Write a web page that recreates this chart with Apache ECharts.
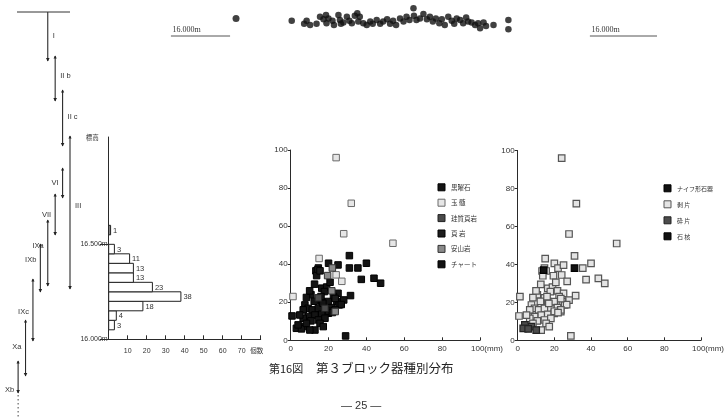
<!DOCTYPE html>
<html><head><meta charset="utf-8">
<script src="https://cdn.jsdelivr.net/npm/echarts@6/dist/echarts.min.js"></script>
<style>html,body{margin:0;padding:0;background:#fff}#c{width:727px;height:417px}</style>
</head><body><div id="c"></div>
<script>
// ---------- stratigraphic layers (column index, top / bottom depth, label depth) ----------
const layerNames = ['I','II b','II c','III','VI','VII','IXa','IXb','IXc','Xa','Xb'];
const layerColumn = [4,5,6,7,6,5,4,3,2,1,0];
const layerTop = [0,44,78,124,156,182,208,232,267,308,349];
const layerBottom = [49,89,134,277,186,223,274,280,329,364,381];
const layerLabelDepth = [24,64,105,194,171,203,234,248,300,335,378];
const layerLabelSide = ['r','r','r','r','l','l','l','l','l','l','l'];
const layerDottedTo = [null,null,null,null,null,null,null,null,null,null,405];
const groundColumns = [-0.15, 7];

// ---------- profile (horizontal distance, elevation m) ----------
const profileX = [15.3,26.5,29.0,29.5,30.2,31.5,32.2,32.9,33.4,33.9,33.5,34.7,35.0,35.9,36.2,36.4,36.9,37.6,38.1,38.6,39.2,39.7,40.2,39.9,40.9,41.6,42.3,42.8,43.6,44.3,44.9,45.7,46.3,46.9,47.5,48.3,49.0,49.6,50.2,51.0,51.1,51.6,52.3,53.0,53.7,54.3,54.9,55.5,56.2,56.7,57.3,58.0,58.7,59.2,59.7,60.4,61.0,61.6,62.0,62.7,63.4,64.0,64.4,65.1,65.6,67.1,70.1,70.1];
const profileZ = [16.55,16.48,16.38,16.48,16.34,16.38,16.60,16.52,16.66,16.55,16.40,16.48,16.34,16.66,16.50,16.38,16.42,16.60,16.48,16.40,16.63,16.71,16.60,16.45,16.40,16.34,16.45,16.38,16.50,16.38,16.45,16.52,16.38,16.48,16.34,16.55,16.45,16.60,16.50,16.87,16.63,16.50,16.55,16.69,16.52,16.60,16.45,16.55,16.40,16.52,16.34,16.60,16.48,16.38,16.55,16.50,16.40,16.58,16.45,16.42,16.34,16.40,16.24,16.42,16.31,16.34,16.50,16.21];
const scaleBarStart = [2.2, 86.5];
const scaleBarEnd = [14.1, 100];
const scaleBarLevel = 16.0;
const scaleBarLabel = '16.000m';

// ---------- elevation histogram ----------
const binLower = [16.00,16.05,16.10,16.15,16.20,16.25,16.30,16.35,16.40,16.45,16.50,16.55];
const binCount = [0,3,4,18,38,23,13,13,11,3,0,1];
const binWidth = 0.05;
const histTicks = [16.0, 16.5];

// ---------- artefacts: width (x) / length (y) in mm, stone type, tool type ----------
const pieceX = [24,32,28,54,31,15,14.6,13.3,14.2,15.5,13.7,20,22,25,31,35.5,40,19.5,24,27,37.3,44,47.5,12.6,16.4,19,20.8,17.8,21.7,25,22.6,31.6,28,10.7,8.3,1.2,0.7,29,14.6,12.4,16.4,19.9,24.4,25.6,7.5,9.2,6.6,11.4,14.6,18.1,21.7,23.5,19.9,16.4,12.8,9.2,6.6,4.8,10.7,14.6,18.1,15.5,12.8,7.5,3.9,3,5.7,8.3,17.2,10.1,26.7,23.5,17,10,16,23.5,20,22];
const pieceY = [96,72,56,51,44.5,43,38,36.5,37,36.5,34,40.5,38,39.6,38,38,40.5,34,34.4,31,32,32.6,30,29.5,27.4,28,30.5,25.6,26,24.7,23,23.5,21.2,24,22.5,23,12.8,2.3,22.3,20.5,20.4,20.4,20.4,18.6,18.6,16.8,16,16,16.8,16.8,17.2,15.1,14.2,13.7,13.3,12.5,11.6,13.3,10.2,10.7,11.6,8.9,5.4,7.2,8.1,6.3,6,8.9,7.2,5.4,18.8,22,19.5,26,23,16,15.3,14.6];
const pieceStone = [1,1,1,1,0,1,0,0,0,3,0,0,4,0,0,0,0,4,1,1,0,0,0,0,0,0,0,0,4,0,0,0,0,0,0,1,0,0,2,0,0,0,0,0,0,0,0,0,0,2,0,4,0,0,0,0,0,0,0,0,0,0,0,0,5,0,0,0,0,0,0,3,0,0,0,0,0,0];
const pieceTool = [1,1,1,1,1,1,1,1,0,1,1,1,1,1,3,1,1,1,1,1,1,1,1,1,1,1,1,1,1,1,1,1,1,1,1,1,1,1,1,1,1,1,1,1,1,1,1,1,1,1,1,1,1,1,1,1,1,1,1,1,1,1,1,2,2,2,2,1,1,2,1,1,1,1,1,1,1,1];

const stoneNames = ['黒曜石','玉 髄','珪質頁岩','頁 岩','安山岩','チャート'];
const toolNames = ['ナイフ形石器','剥 片','砕 片','石 核'];

// ---------- styles ----------
const stoneFill = ['#141414','#e6e6e6','#4a4a4a','#1c1c1c','#8a8a8a','#111'];
const stoneBorder = ['#000','#6a6a6a','#222','#000','#333','#000'];
const toolFill = ['#111','#e4e4e4','#4c4c4c','#111'];
const toolBorder = ['#000','#555','#222','#000'];
const SANS = 'Liberation Sans, Arial, sans-serif';
const CJK = 'Noto Sans CJK JP, sans-serif';
const INK = '#2a2a2a';

const chart = echarts.init(document.getElementById('c'), null, {renderer:'canvas'});

function pts(filterArr, k){
  const out = [];
  pieceX.forEach((x,i)=>{ if(filterArr[i]===k) out.push([x, pieceY[i]]); });
  return out;
}

function scatterAxes(grid){
  return {
    x: {type:'value', gridIndex:grid, min:0, max:100, interval:20,
      axisLine:{lineStyle:{color:INK,width:1}},
      axisTick:{inside:true,length:3,lineStyle:{color:INK}},
      splitLine:{show:false},
      axisLabel:{fontSize:8,color:'#333',margin:4,fontFamily:SANS,
        formatter:v=> v===100 ? '{u|100(mm)}' : String(v),
        rich:{u:{fontSize:8,color:'#333',fontFamily:SANS,padding:[0,0,0,14]}}}},
    y: {type:'value', gridIndex:grid, min:0, max:100, interval:20,
      axisLine:{lineStyle:{color:INK,width:1}},
      axisTick:{length:3,lineStyle:{color:INK}},
      splitLine:{show:false},
      axisLabel:{fontSize:8,color:'#333',margin:3,fontFamily:SANS}}
  };
}
const s1 = scatterAxes(3), s2 = scatterAxes(4);

const series = [];

// stratigraphy
series.push({
  type:'custom', xAxisIndex:0, yAxisIndex:0, silent:true,
  data: layerNames.map((n,i)=>[layerColumn[i], layerTop[i], layerBottom[i], layerLabelDepth[i]]),
  renderItem(params, api){
    const i = params.dataIndex;
    const a = api.coord([api.value(0), api.value(1)]);
    const b = api.coord([api.value(0), api.value(2)]);
    const l = api.coord([api.value(0), api.value(3)]);
    const ch = [
      {type:'line', shape:{x1:a[0],y1:a[1],x2:b[0],y2:b[1]}, style:{stroke:'#2a2a2a',lineWidth:1.1}},
      {type:'polygon', shape:{points:[[b[0]-1.8,b[1]-3],[b[0]+1.8,b[1]-3],[b[0],b[1]+0.5]]}, style:{fill:'#222'}}
    ];
    if(i>0) ch.push({type:'polygon', shape:{points:[[a[0]-1.6,a[1]+2.6],[a[0]+1.6,a[1]+2.6],[a[0],a[1]-0.5]]}, style:{fill:'#222'}});
    if(layerDottedTo[i]!=null){
      const d = api.coord([api.value(0), layerDottedTo[i]]);
      ch.push({type:'line', shape:{x1:b[0],y1:b[1]+2,x2:d[0],y2:d[1]}, style:{stroke:'#444',lineWidth:1,lineDash:[1.5,2.5]}});
    }
    const right = layerLabelSide[i]==='r';
    ch.push({type:'text', style:{text:layerNames[i], x: right? l[0]+5 : l[0]-4, y:l[1],
      align: right?'left':'right', verticalAlign:'middle', fontSize:7.5, fill:'#333', fontFamily:SANS}});
    return {type:'group', children:ch};
  }
});
series.push({
  type:'custom', xAxisIndex:0, yAxisIndex:0, silent:true,
  data:[[groundColumns[0], groundColumns[1], 0]],
  renderItem(params, api){
    const a = api.coord([api.value(0), api.value(2)]);
    const b = api.coord([api.value(1), api.value(2)]);
    return {type:'line', shape:{x1:a[0],y1:a[1],x2:b[0],y2:b[1]}, style:{stroke:'#333',lineWidth:1}};
  }
});

// profile dots
series.push({
  type:'scatter', xAxisIndex:1, yAxisIndex:1, silent:true,
  symbol:'circle', symbolSize:(v,p)=> p.dataIndex===0 ? 7 : 6.5,
  itemStyle:{color:'#121212'},
  data: profileX.map((x,i)=>[x, profileZ[i]])
});
// scale bars
series.push({
  type:'custom', xAxisIndex:1, yAxisIndex:1, silent:true,
  data: scaleBarStart.map((s,i)=>[s, scaleBarEnd[i], scaleBarLevel]),
  renderItem(params, api){
    const a = api.coord([api.value(0), api.value(2)]);
    const b = api.coord([api.value(1), api.value(2)]);
    return {type:'group', children:[
      {type:'line', shape:{x1:a[0],y1:a[1],x2:b[0],y2:b[1]}, style:{stroke:'#555',lineWidth:1}},
      {type:'text', style:{text:scaleBarLabel, x:a[0]+1.5, y:a[1]-2, align:'left', verticalAlign:'bottom',
        fontSize:8, fill:'#333', fontFamily:'Liberation Serif, serif'}}
    ]};
  }
});

// histogram
series.push({
  type:'custom', xAxisIndex:2, yAxisIndex:2, silent:true,
  data: binLower.map((b,i)=>[binCount[i], b]),
  encode:{x:0, y:1},
  renderItem(params, api){
    const cnt = api.value(0), lo = api.value(1);
    if(!cnt) return null;
    const p0 = api.coord([0, lo]);
    const p1 = api.coord([cnt, lo + binWidth]);
    return {type:'group', children:[
      {type:'rect', shape:{x:p0[0], y:p1[1], width:p1[0]-p0[0], height:p0[1]-p1[1]},
        style:{fill: cnt<2 ? '#9a9a9a' : '#fff', stroke:'#222', lineWidth:1}},
      {type:'text', style:{text:String(cnt), x:p1[0]+2.5, y:(p0[1]+p1[1])/2+0.5, align:'left', verticalAlign:'middle',
        fontSize:7.5, fill:'#333', fontFamily:SANS}}
    ]};
  }
});

// scatter 1 (stone types)
stoneNames.forEach((n,k)=>{
  series.push({name:n, type:'scatter', xAxisIndex:3, yAxisIndex:3, symbol:'rect', symbolSize:6.5, silent:true,
    itemStyle:{color:stoneFill[k], borderColor:stoneBorder[k], borderWidth:1, opacity:1},
    data: pts(pieceStone, k)});
});
// scatter 2 (tool types)
const toolOrder = [1,2,0,3];
toolOrder.forEach(k=>{
  series.push({name:toolNames[k], type:'scatter', xAxisIndex:4, yAxisIndex:4, symbol:'rect', symbolSize:6.5, silent:true,
    itemStyle:{color:toolFill[k], borderColor:toolBorder[k], borderWidth:1.2, opacity:1},
    data: pts(pieceTool, k)});
});

const option = {
  backgroundColor:'#fff',
  animation:false,
  title:[
    {text:'第16図', left:269, top:363, padding:0, textStyle:{fontSize:11,fontWeight:'normal',color:'#222',fontFamily:CJK}},
    {text:'第３ブロック器種別分布', left:316, top:362, padding:0, textStyle:{fontSize:12.5,fontWeight:'normal',color:'#222',fontFamily:CJK}},
    {text:'— 25 —', left:341, top:400, padding:0, textStyle:{fontSize:11,fontWeight:'normal',color:'#333',fontFamily:SANS}}
  ],
  legend:[
    {data: stoneNames.map((n,i)=>({name:n, itemStyle:{color:stoneFill[i],borderColor:stoneBorder[i],borderWidth:1}})),
     orient:'vertical', left:437.5, top:183.3, padding:0, itemWidth:7, itemHeight:7, itemGap:7.4, icon:'rect',
     selectedMode:false, textStyle:{fontSize:6.5, lineHeight:8, color:'#333', fontFamily:CJK, padding:[0,0,0,1]}},
    {data: toolNames.map((n,i)=>({name:n, itemStyle:{color:toolFill[i],borderColor:toolBorder[i],borderWidth:1}})),
     orient:'vertical', left:663.5, top:184.3, padding:0, itemWidth:7, itemHeight:7, itemGap:8, icon:'rect',
     selectedMode:false, textStyle:{fontSize:6, lineHeight:8, color:'#333', fontFamily:CJK, padding:[0,0,0,1]}}
  ],
  grid:[
    {left:17, top:12, width:53, height:405},
    {left:160, top:4, width:497, height:32},
    {left:108.7, top:137, width:152, height:202.3},
    {left:290.7, top:150, width:189.3, height:190.3},
    {left:517.7, top:150.5, width:187.5, height:189.8}
  ],
  xAxis:[
    {type:'value', gridIndex:0, min:groundColumns[0], max:7, show:false},
    {type:'value', gridIndex:1, min:0, max:100, show:false},
    {type:'value', gridIndex:2, min:0, max:80, interval:10,
      axisLine:{lineStyle:{color:INK,width:1}},
      axisTick:{inside:true,length:4,lineStyle:{color:INK}},
      splitLine:{show:false},
      axisLabel:{fontSize:7,color:'#333',margin:8,fontFamily:SANS,
        formatter:v=> v===0 ? '' : (v===80 ? '{c|個数}' : String(v)),
        rich:{c:{fontSize:6.5,color:'#333',fontFamily:CJK,padding:[0,8,0,0]}}}},
    s1.x, s2.x
  ],
  yAxis:[
    {type:'value', gridIndex:0, min:0, max:405, inverse:true, show:false},
    {type:'value', gridIndex:1, min:16.0, max:17.0, show:false},
    {type:'value', gridIndex:2, min:16.0, max:17.065,
      name:'標高', nameLocation:'end', nameGap:-1,
      nameTextStyle:{fontSize:6.5,color:'#333',fontFamily:CJK,align:'right',verticalAlign:'middle',padding:[0,10,0,0]},
      axisLine:{lineStyle:{color:INK,width:1}},
      axisTick:{customValues:histTicks,length:9,lineStyle:{color:INK}},
      splitLine:{show:false},
      axisLabel:{customValues:histTicks,fontSize:7,color:'#333',margin:1,fontFamily:SANS,
        formatter:v=> Number(v).toFixed(3)+'m'}},
    s1.y, s2.y
  ],
  series
};
chart.setOption(option);
</script>
</body></html>
